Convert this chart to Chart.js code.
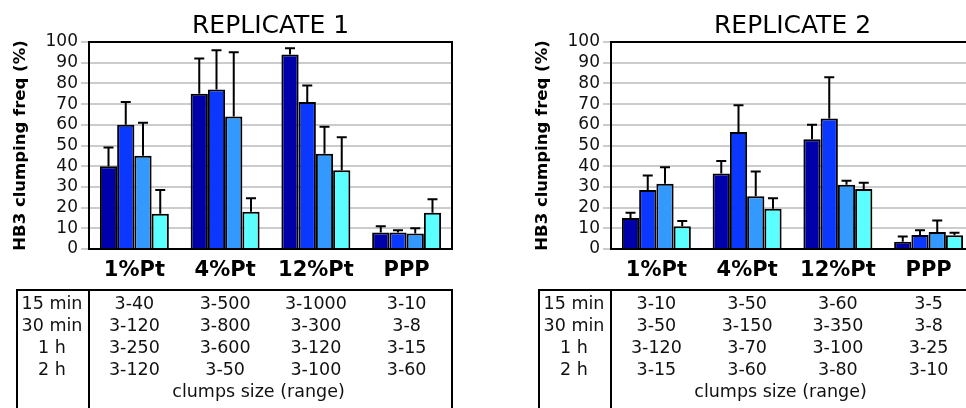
<!DOCTYPE html>
<html><head><meta charset="utf-8">
<script src="https://cdn.jsdelivr.net/npm/chart.js@4.4.0/dist/chart.umd.min.js"></script>
<style>
html,body{margin:0;padding:0;background:#fff;overflow:hidden;width:966px;height:408px;position:relative;}
.w{position:absolute;top:0;width:483px;height:408px;}
</style></head><body>
<div class="w" style="left:0"><canvas id="c1" width="483" height="408"></canvas></div>
<div class="w" style="left:522px"><canvas id="c2" width="483" height="408"></canvas></div>
<script>
// ---- data ----
const categories = ['1%Pt', '4%Pt', '12%Pt', 'PPP'];
const timepoints = ['15 min', '30 min', '1 h', '2 h'];
const yTickStep = 10;
const yMax = 100;
const yAxisTitle = 'HB3 clumping freq (%)';
const rangeCaption = 'clumps size (range)';

// Replicate 1 means (%)
const rep1_15min = [40, 75, 94, 8];
const rep1_30min = [60, 77, 71, 8];
const rep1_1h    = [45, 64, 46, 7.5];
const rep1_2h    = [17, 18, 38, 17.5];
// Replicate 1 upper error (%)
const rep1_err_15min = [9, 17, 3, 3];
const rep1_err_30min = [11, 19, 8, 1];
const rep1_err_1h    = [16, 31, 13, 2.5];
const rep1_err_2h    = [11.5, 6.5, 16, 6.5];
// Replicate 1 clump size ranges
const rep1_range_15min = ['3-40', '3-500', '3-1000', '3-10'];
const rep1_range_30min = ['3-120', '3-800', '3-300', '3-8'];
const rep1_range_1h    = ['3-250', '3-600', '3-120', '3-15'];
const rep1_range_2h    = ['3-120', '3-50', '3-100', '3-60'];

// Replicate 2 means (%)
const rep2_15min = [15, 36.5, 53, 3.5];
const rep2_30min = [28.5, 56.5, 63, 6.8];
const rep2_1h    = [31.5, 25.5, 31, 8.2];
const rep2_2h    = [11, 19.5, 29, 6.6];
// Replicate 2 upper error (%)
const rep2_err_15min = [2.5, 6, 7, 2.5];
const rep2_err_30min = [7, 13, 20, 2.2];
const rep2_err_1h    = [8, 12, 2, 5.6];
const rep2_err_2h    = [2.5, 5, 3, 1.2];
// Replicate 2 clump size ranges
const rep2_range_15min = ['3-10', '3-50', '3-60', '3-5'];
const rep2_range_30min = ['3-50', '3-150', '3-350', '3-8'];
const rep2_range_1h    = ['3-120', '3-70', '3-100', '3-25'];
const rep2_range_2h    = ['3-15', '3-60', '3-80', '3-10'];

// ---- styles ----
const colors = ['#0000aa', '#0a38ff', '#3399ff', '#5cffff'];
const FONT = "'DejaVu Sans', Verdana, sans-serif";

const errorBarPlugin = {
  id: 'errbars',
  afterDatasetsDraw(chart) {
    const ctx = chart.ctx, ys = chart.scales.y, a = chart.chartArea;
    ctx.save();
    ctx.strokeStyle = '#000'; ctx.lineWidth = 2;
    ctx.strokeRect(a.left, a.top, a.right - a.left, a.bottom - a.top);
    chart.data.datasets.forEach((ds, i) => {
      const meta = chart.getDatasetMeta(i);
      meta.data.forEach((bar, j) => {
        const v = ds.data[j], e = ds.errors[j];
        const y0 = ys.getPixelForValue(v), y1 = ys.getPixelForValue(v + e);
        ctx.beginPath();
        ctx.moveTo(bar.x, y0); ctx.lineTo(bar.x, y1);
        ctx.moveTo(bar.x - 5, y1); ctx.lineTo(bar.x + 5, y1);
        ctx.stroke();
      });
    });
    ctx.restore();
  }
};

const tablePlugin = {
  id: 'rangetable',
  afterDraw(chart) {
    const opts = chart.options.plugins.rangetable;
    const ctx = chart.ctx, a = chart.chartArea, xs = chart.scales.x;
    const left = a.left - 72, top = 290;
    ctx.save();
    ctx.strokeStyle = '#000'; ctx.lineWidth = 2;
    ctx.strokeRect(left, top, a.right - left, 200);
    ctx.beginPath(); ctx.moveTo(a.left, top); ctx.lineTo(a.left, 420); ctx.stroke();
    ctx.fillStyle = '#111';
    ctx.font = '17.5px ' + FONT;
    ctx.textAlign = 'center'; ctx.textBaseline = 'middle';
    opts.rows.forEach((row, r) => {
      const y = 304 + r * 22;
      ctx.fillText(timepoints[r], a.left - 37, y);
      row.forEach((txt, c) => ctx.fillText(txt, xs.getPixelForValue(c), y));
    });
    ctx.fillText(rangeCaption, (a.left + a.right) / 2 - 12, 304 + 4 * 22);
    ctx.restore();
  }
};

function makeChart(id, title, series, errs, rows) {
  new Chart(document.getElementById(id), {
    type: 'bar',
    data: {
      labels: categories,
      datasets: series.map((d, i) => ({
        label: timepoints[i], data: d, errors: errs[i],
        backgroundColor: colors[i], borderColor: '#000', borderWidth: 2,
        barPercentage: 1.0, categoryPercentage: 0.76
      }))
    },
    options: {
      responsive: false, animation: false, devicePixelRatio: 1,
      layout: { padding: { left: 0, right: 31, top: 0, bottom: 0 } },
      plugins: {
        legend: { display: false }, tooltip: { enabled: false },
        title: { display: true, text: title, fullSize: false, color: '#000',
          font: { family: FONT, size: 25, weight: 'normal' }, padding: { top: 11, bottom: 1 } },
        rangetable: { rows }
      },
      scales: {
        x: {
          grid: { display: false, drawTicks: false },
          border: { display: true, color: '#000', width: 2 },
          ticks: { color: '#000', font: { family: FONT, size: 21, weight: 'bold' }, padding: 9 },
          afterFit(s) { s.height = 159; }
        },
        y: {
          min: 0, max: yMax,
          grid: { color: '#cccccc', lineWidth: 2, tickLength: 8, drawTicks: true },
          border: { display: true, color: '#000', width: 2 },
          ticks: { stepSize: yTickStep, autoSkip: false, color: '#111', font: { family: FONT, size: 17 }, padding: 3 },
          title: { display: true, text: yAxisTitle, color: '#000',
            font: { family: FONT, size: 16.5, weight: 'bold' }, padding: { top: 11, bottom: 0 } },
          afterFit(s) { s.width = 89; }
        }
      }
    },
    plugins: [errorBarPlugin, tablePlugin]
  });
}

makeChart('c1', 'REPLICATE 1',
  [rep1_15min, rep1_30min, rep1_1h, rep1_2h],
  [rep1_err_15min, rep1_err_30min, rep1_err_1h, rep1_err_2h],
  [rep1_range_15min, rep1_range_30min, rep1_range_1h, rep1_range_2h]);
makeChart('c2', 'REPLICATE 2',
  [rep2_15min, rep2_30min, rep2_1h, rep2_2h],
  [rep2_err_15min, rep2_err_30min, rep2_err_1h, rep2_err_2h],
  [rep2_range_15min, rep2_range_30min, rep2_range_1h, rep2_range_2h]);
</script>
</body></html>
